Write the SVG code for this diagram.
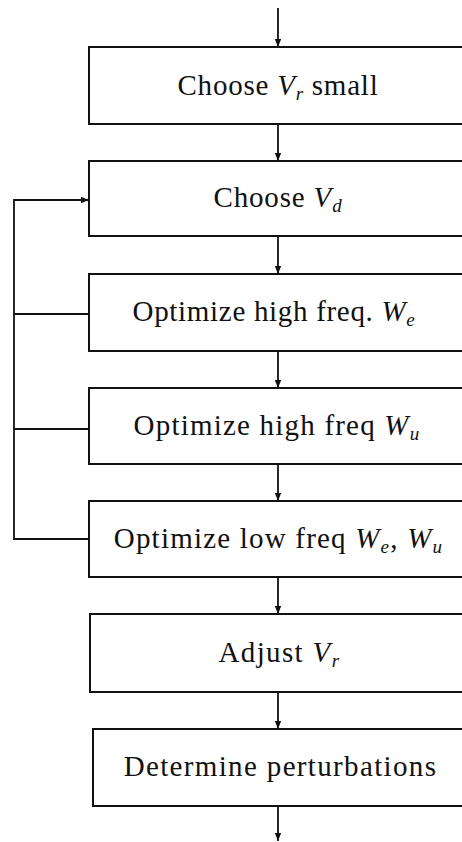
<svg xmlns="http://www.w3.org/2000/svg" width="462" height="842" viewBox="0 0 462 842">
<style>
.box{fill:#fff;stroke:#111;stroke-width:2}
.ln{fill:none;stroke:#111;stroke-width:1.8}
</style>
<defs>
<marker id="ah" viewBox="0 0 10 10" refX="10" refY="5" markerWidth="10" markerHeight="8" markerUnits="userSpaceOnUse" orient="auto">
<path d="M0,1 L10,5 L0,9 Z" fill="#111"/>
</marker>
</defs>
<rect width="462" height="842" fill="#fff"/>
<g id="connectors">
<line class="ln" x1="278" y1="8" x2="278" y2="47" marker-end="url(#ah)"/>
<line class="ln" x1="278" y1="124" x2="278" y2="161" marker-end="url(#ah)"/>
<line class="ln" x1="278" y1="236" x2="278" y2="274" marker-end="url(#ah)"/>
<line class="ln" x1="278" y1="351" x2="278" y2="388" marker-end="url(#ah)"/>
<line class="ln" x1="278" y1="464" x2="278" y2="501" marker-end="url(#ah)"/>
<line class="ln" x1="278" y1="577" x2="278" y2="614" marker-end="url(#ah)"/>
<line class="ln" x1="278" y1="692" x2="278" y2="729" marker-end="url(#ah)"/>
<line class="ln" x1="278" y1="806" x2="278" y2="841" marker-end="url(#ah)"/>
<polyline class="ln" points="89,539 14,539 14,200 89,200" marker-end="url(#ah)"/>
<line class="ln" x1="14" y1="314" x2="89" y2="314"/>
<line class="ln" x1="14" y1="429" x2="89" y2="429"/>
</g>
<g font-family="Liberation Serif" font-size="29" fill="#111" text-anchor="middle">
<g id="n1">
<rect class="box" x="89" y="47" width="390" height="77"/>
<text x="278" y="95" letter-spacing="0.77">Choose <tspan font-style="italic">V</tspan><tspan font-style="italic" font-size="19" dy="5">r</tspan><tspan dy="-5"> small</tspan></text>
</g>
<g id="n2">
<rect class="box" x="89" y="161" width="390" height="75"/>
<text x="278" y="207" letter-spacing="0.83">Choose <tspan font-style="italic">V</tspan><tspan font-style="italic" font-size="19" dy="5">d</tspan></text>
</g>
<g id="n3">
<rect class="box" x="89" y="274" width="390" height="77"/>
<text x="274" y="321" letter-spacing="0.69">Optimize high freq. <tspan font-style="italic">W</tspan><tspan font-style="italic" font-size="19" dy="5">e</tspan></text>
</g>
<g id="n4">
<rect class="box" x="89" y="388" width="390" height="76"/>
<text x="277" y="435" letter-spacing="1.2">Optimize high freq <tspan font-style="italic">W</tspan><tspan font-style="italic" font-size="19" dy="5">u</tspan></text>
</g>
<g id="n5">
<rect class="box" x="89" y="501" width="390" height="76"/>
<text x="278.5" y="548" letter-spacing="1.2">Optimize low freq <tspan font-style="italic">W</tspan><tspan font-style="italic" font-size="19" dy="5">e</tspan><tspan dy="-5">, </tspan><tspan font-style="italic">W</tspan><tspan font-style="italic" font-size="19" dy="5">u</tspan></text>
</g>
<g id="n6">
<rect class="box" x="90" y="614" width="390" height="78"/>
<text x="279.5" y="662" letter-spacing="1.35">Adjust <tspan font-style="italic">V</tspan><tspan font-style="italic" font-size="19" dy="5">r</tspan></text>
</g>
<g id="n7">
<rect class="box" x="93" y="729" width="390" height="77"/>
<text x="280.5" y="776" letter-spacing="1.35">Determine perturbations</text>
</g>
</g>
</svg>
